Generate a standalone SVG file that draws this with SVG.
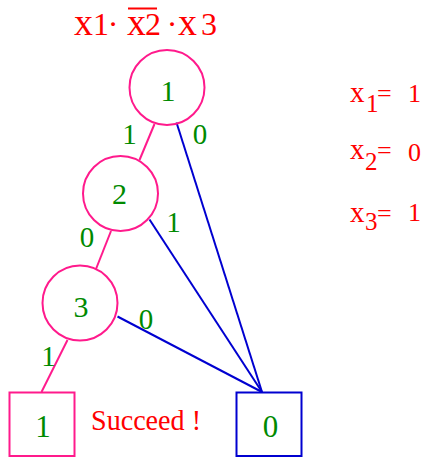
<svg xmlns="http://www.w3.org/2000/svg" width="424" height="457" viewBox="0 0 424 457">
<style>
  text { font-family: "Liberation Serif", "Times New Roman", serif; }
  .red { fill: #ff0000; }
  .grn { fill: #008a00; }
  .node { fill: none; stroke: #ff1a8c; stroke-width: 2; }
  .leaf0 { fill: none; stroke: #0000d0; stroke-width: 2; }
  .hi { stroke: #ff1a8c; stroke-width: 2; fill: none; }
  .lo { stroke: #0000d0; stroke-width: 2; fill: none; }
  .nl { font-size: 30px; text-anchor: middle; }
  .el { font-size: 29px; text-anchor: middle; }
</style>
<rect width="424" height="457" fill="#ffffff"/>

<g id="title">
  <text class="red" x="74" y="34.5" font-size="38">x</text>
  <text class="red" x="93" y="35" font-size="32">1</text>
  <text class="red" x="113" y="35" font-size="32" text-anchor="middle">·</text>
  <text class="red" x="127" y="34.5" font-size="38">x</text>
  <text class="red" x="145" y="35" font-size="32">2</text>
  <line x1="128" y1="8.5" x2="157" y2="8.5" stroke="#ff0000" stroke-width="2"/>
  <text class="red" x="172" y="35" font-size="32" text-anchor="middle">·</text>
  <text class="red" x="178" y="34.5" font-size="38">x</text>
  <text class="red" x="201" y="35" font-size="32">3</text>
</g>

<g id="assignment">
  <text class="red" x="350" y="101.5" font-size="29">x</text>
  <text class="red" x="366" y="111.5" font-size="25">1</text>
  <text class="red" x="377" y="101.5" font-size="26">=</text>
  <text class="red" x="408" y="101.5" font-size="26">1</text>

  <text class="red" x="350" y="159" font-size="29">x</text>
  <text class="red" x="365" y="170" font-size="25">2</text>
  <text class="red" x="377" y="159" font-size="26">=</text>
  <text class="red" x="408" y="161" font-size="26">0</text>

  <text class="red" x="350" y="221.5" font-size="29">x</text>
  <text class="red" x="365" y="230" font-size="25">3</text>
  <text class="red" x="377" y="221.5" font-size="26">=</text>
  <text class="red" x="408" y="221" font-size="26">1</text>
</g>

<g id="connectors">
  <line class="hi" x1="154.5" y1="124" x2="139.5" y2="160"/>
  <line class="lo" x1="176.5" y1="122.5" x2="262" y2="392"/>
  <line class="hi" x1="111" y1="231" x2="96" y2="269"/>
  <line class="lo" x1="149.5" y1="219.5" x2="262" y2="392"/>
  <line class="lo" x1="117.5" y1="316.5" x2="262" y2="392"/>
  <line class="hi" x1="67.5" y1="340" x2="41.5" y2="392"/>
  <text class="el grn" x="129.5" y="144">1</text>
  <text class="el grn" x="200" y="144">0</text>
  <text class="el grn" x="87" y="247">0</text>
  <text class="el grn" x="173.5" y="231.5">1</text>
  <text class="el grn" x="146" y="329">0</text>
  <text class="el grn" x="48.5" y="366">1</text>
</g>

<g id="node1">
  <circle class="node" cx="167" cy="87.5" r="37.5"/>
  <text class="nl grn" x="168" y="101">1</text>
</g>
<g id="node2">
  <circle class="node" cx="120.5" cy="193.5" r="37.5"/>
  <text class="nl grn" x="119.5" y="204">2</text>
</g>
<g id="node3">
  <circle class="node" cx="80" cy="303" r="37.5"/>
  <text class="nl grn" x="81" y="316.5">3</text>
</g>
<g id="leaf1">
  <rect x="9.5" y="392.5" width="65" height="63.5" fill="none" stroke="#ff1a8c" stroke-width="2"/>
  <text class="grn" x="43" y="437" font-size="31" text-anchor="middle">1</text>
</g>
<g id="leaf0">
  <rect class="leaf0" x="236.5" y="392.5" width="65" height="63.5"/>
  <text class="grn" x="270.5" y="437" font-size="31" text-anchor="middle">0</text>
</g>
<g id="succeed">
  <text class="red" x="91" y="430" font-size="30" textLength="110" lengthAdjust="spacingAndGlyphs">Succeed !</text>
</g>
</svg>
